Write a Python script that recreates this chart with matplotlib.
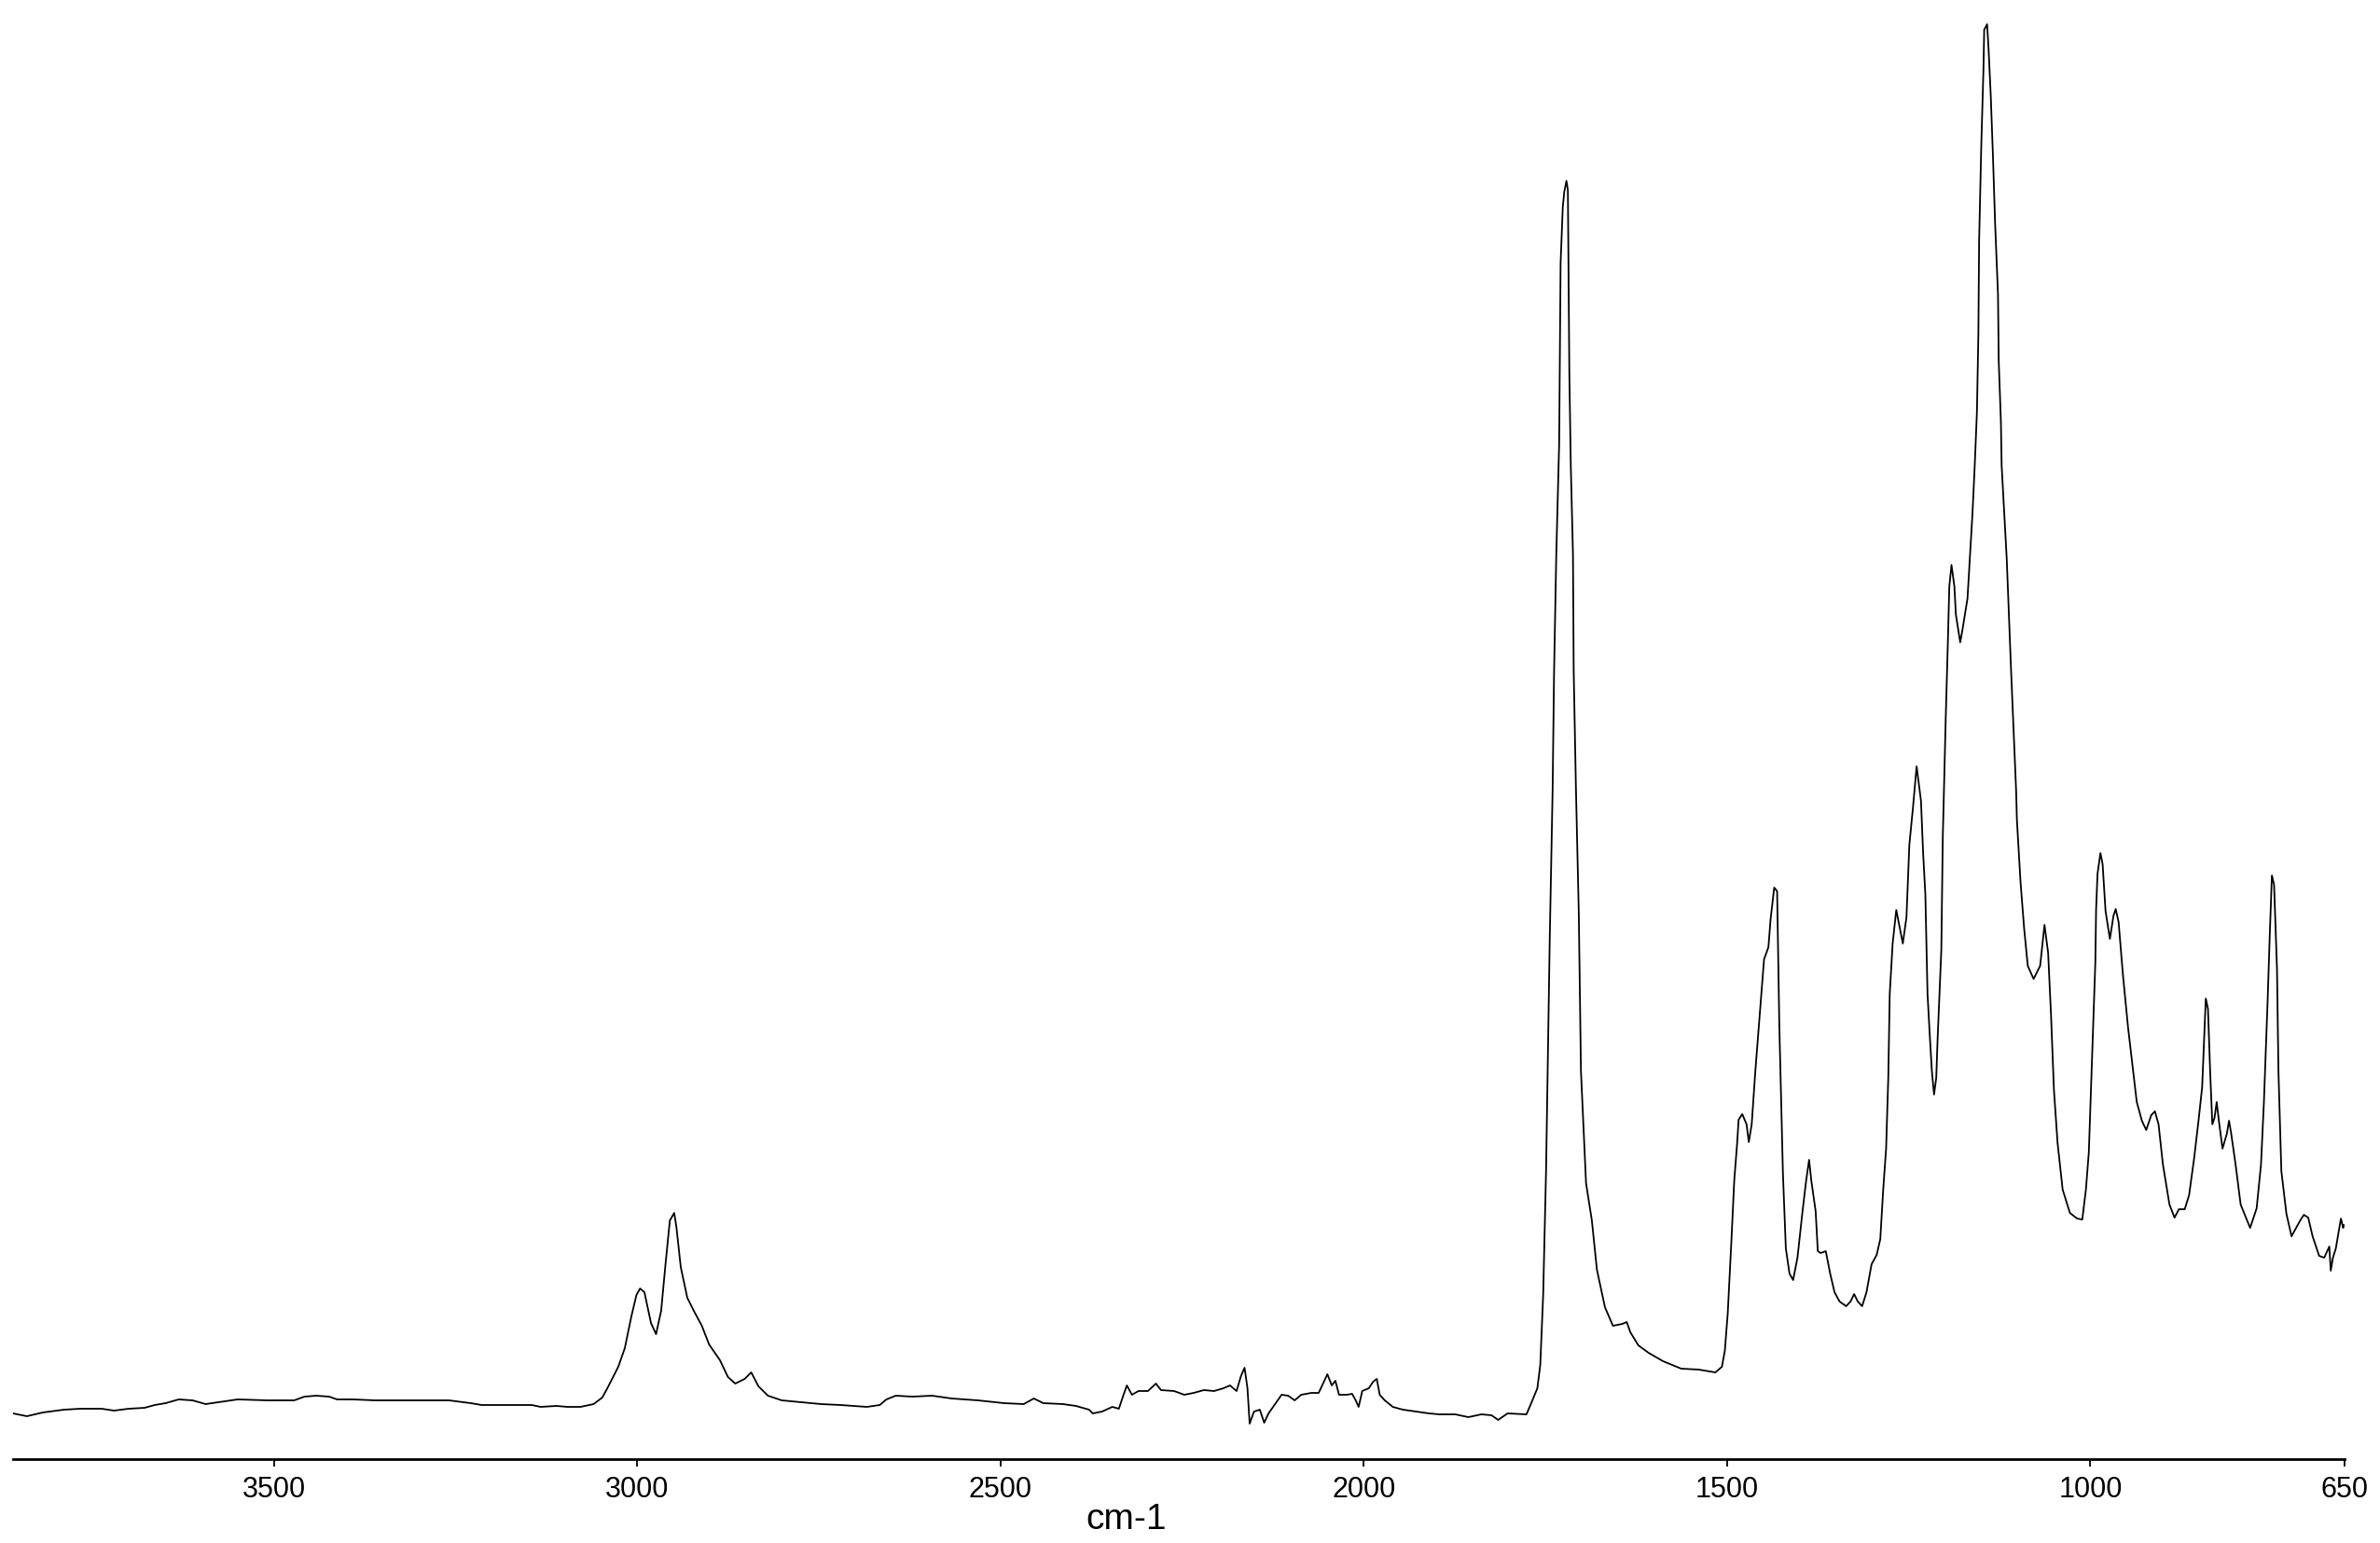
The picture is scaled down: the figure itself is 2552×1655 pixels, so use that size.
import matplotlib
matplotlib.use("Agg")
import matplotlib.pyplot as plt
import numpy as np

wavenumber = [
    3859, 3840, 3818, 3789, 3767, 3737, 3720, 3700, 3678, 3664, 3649, 3631, 3612, 3594, 3576, 3550,
    3509, 3472, 3458, 3442, 3424, 3413, 3391, 3361, 3324, 3288, 3259, 3229, 3214, 3178, 3145, 3133,
    3111, 3096, 3078, 3060, 3048, 3041, 3026, 3017, 3008, 3001, 2996, 2990, 2981, 2974, 2967, 2961,
    2955, 2949, 2946, 2940, 2931, 2922, 2911, 2901, 2886, 2875, 2865, 2852, 2843, 2833, 2820, 2801,
    2774, 2747, 2720, 2684, 2666, 2657, 2644, 2621, 2594, 2567, 2531, 2495, 2468, 2454, 2441, 2414,
    2396, 2378, 2373, 2360, 2346, 2337, 2331, 2326, 2319, 2310, 2297, 2286, 2279, 2261, 2247, 2234,
    2220, 2206, 2193, 2184, 2175, 2169, 2164, 2160, 2157, 2151, 2143, 2137, 2131, 2122, 2113, 2104,
    2095, 2086, 2072, 2062, 2056, 2050, 2044, 2039, 2034, 2023, 2016, 2011, 2007, 2002, 1993, 1987,
    1982, 1978, 1971, 1960, 1946, 1928, 1910, 1896, 1874, 1856, 1838, 1824, 1815, 1802, 1776, 1770,
    1761, 1757, 1753, 1749, 1744, 1740, 1738, 1735, 1731, 1730, 1729, 1726, 1724, 1721, 1719, 1717,
    1715, 1712, 1711, 1708, 1704, 1701, 1694, 1686, 1679, 1668, 1657, 1644, 1638, 1633, 1622, 1608,
    1588, 1563, 1539, 1516, 1507, 1503, 1499, 1494, 1490, 1486, 1484, 1479, 1473, 1470, 1466, 1461,
    1455, 1449, 1443, 1440, 1435, 1431, 1428, 1423, 1419, 1414, 1409, 1403, 1396, 1391, 1387, 1384,
    1378, 1375, 1371, 1364, 1358, 1352, 1345, 1336, 1330, 1325, 1320, 1314, 1308, 1301, 1294, 1289,
    1285, 1281, 1278, 1276, 1272, 1267, 1258, 1253, 1249, 1244, 1239, 1233, 1230, 1227, 1224, 1221,
    1218, 1215, 1212, 1210, 1205, 1203, 1199, 1196, 1194, 1191, 1187, 1185, 1179, 1176, 1169, 1165,
    1162, 1159, 1156, 1154, 1153, 1150, 1147, 1146, 1142, 1140, 1137, 1134, 1131, 1127, 1126, 1123,
    1122, 1115, 1109, 1102, 1101, 1096, 1091, 1086, 1078, 1069, 1063, 1058, 1054, 1050, 1045, 1038,
    1028, 1018, 1011, 1006, 1002, 999, 996, 993, 992, 990, 986, 983, 979, 973, 968, 965,
    961, 955, 948, 942, 936, 929, 923, 916, 911, 906, 900, 891, 884, 878, 870, 864,
    857, 851, 846, 843, 841, 838, 835, 832, 829, 826, 823, 818, 812, 809, 806, 800,
    793, 780, 771, 765, 761, 756, 753, 750, 747, 743, 741, 737, 730, 723, 711, 706,
    700, 694, 685, 678, 671, 669, 666, 662, 655, 652, 651,
]

absorbance = [
    0.049, 0.046, 0.050, 0.053, 0.054, 0.054, 0.052, 0.054, 0.055, 0.058, 0.060, 0.064, 0.063, 0.059, 0.061, 0.064,
    0.063, 0.063, 0.067, 0.068, 0.067, 0.064, 0.064, 0.063, 0.063, 0.063, 0.063, 0.060, 0.058, 0.058, 0.058, 0.056,
    0.057, 0.056, 0.056, 0.059, 0.066, 0.076, 0.099, 0.119, 0.153, 0.176, 0.183, 0.179, 0.146, 0.134, 0.159, 0.209,
    0.256, 0.264, 0.249, 0.206, 0.173, 0.159, 0.143, 0.123, 0.106, 0.088, 0.081, 0.086, 0.093, 0.078, 0.068, 0.063,
    0.061, 0.059, 0.058, 0.056, 0.058, 0.064, 0.068, 0.067, 0.068, 0.065, 0.063, 0.060, 0.059, 0.065, 0.060, 0.059,
    0.057, 0.053, 0.049, 0.051, 0.056, 0.054, 0.068, 0.079, 0.069, 0.073, 0.073, 0.081, 0.074, 0.073, 0.069, 0.071,
    0.074, 0.073, 0.076, 0.079, 0.073, 0.089, 0.098, 0.076, 0.038, 0.051, 0.053, 0.039, 0.049, 0.059, 0.069, 0.068,
    0.063, 0.069, 0.071, 0.071, 0.081, 0.091, 0.079, 0.084, 0.069, 0.069, 0.070, 0.063, 0.056, 0.073, 0.076, 0.083,
    0.086, 0.069, 0.063, 0.056, 0.053, 0.051, 0.049, 0.048, 0.048, 0.045, 0.048, 0.047, 0.042, 0.049, 0.048, 0.059,
    0.076, 0.101, 0.176, 0.310, 0.556, 0.718, 0.844, 0.969, 1.089, 1.191, 1.283, 1.343, 1.359, 1.371, 1.361, 1.166,
    1.066, 0.971, 0.846, 0.723, 0.586, 0.416, 0.296, 0.256, 0.203, 0.163, 0.143, 0.145, 0.147, 0.136, 0.122, 0.114,
    0.105, 0.097, 0.096, 0.093, 0.099, 0.116, 0.156, 0.233, 0.299, 0.339, 0.364, 0.370, 0.359, 0.340, 0.359, 0.416,
    0.476, 0.536, 0.549, 0.579, 0.613, 0.609, 0.466, 0.306, 0.226, 0.199, 0.192, 0.216, 0.266, 0.299, 0.321, 0.299,
    0.266, 0.223, 0.221, 0.223, 0.199, 0.179, 0.169, 0.164, 0.169, 0.177, 0.169, 0.164, 0.179, 0.209, 0.219, 0.236,
    0.289, 0.333, 0.409, 0.499, 0.553, 0.589, 0.553, 0.581, 0.659, 0.699, 0.743, 0.706, 0.649, 0.606, 0.499, 0.456,
    0.416, 0.391, 0.409, 0.453, 0.546, 0.666, 0.793, 0.876, 0.936, 0.959, 0.936, 0.906, 0.876, 0.889, 0.923, 0.976,
    1.016, 1.066, 1.123, 1.206, 1.306, 1.409, 1.491, 1.533, 1.539, 1.513, 1.463, 1.399, 1.326, 1.249, 1.178, 1.113,
    1.066, 0.966, 0.846, 0.716, 0.686, 0.619, 0.569, 0.529, 0.515, 0.529, 0.573, 0.543, 0.476, 0.396, 0.339, 0.289,
    0.264, 0.258, 0.257, 0.289, 0.329, 0.396, 0.463, 0.533, 0.589, 0.628, 0.650, 0.638, 0.588, 0.558, 0.583, 0.590,
    0.576, 0.519, 0.463, 0.423, 0.383, 0.363, 0.353, 0.369, 0.373, 0.359, 0.316, 0.273, 0.259, 0.268, 0.268, 0.283,
    0.323, 0.363, 0.399, 0.456, 0.494, 0.483, 0.416, 0.359, 0.366, 0.383, 0.363, 0.333, 0.349, 0.363, 0.349, 0.316,
    0.273, 0.248, 0.269, 0.316, 0.383, 0.489, 0.561, 0.626, 0.616, 0.526, 0.416, 0.309, 0.263, 0.239, 0.256, 0.262,
    0.259, 0.239, 0.218, 0.216, 0.228, 0.202, 0.216, 0.226, 0.258, 0.248, 0.251,
]

tick_values = [3500, 3000, 2500, 2000, 1500, 1000, 650]
tick_labels = ["3500", "3000", "2500", "2000", "1500", "1000", "650"]
x_label = "cm-1"

narrow = ["Liberation Sans Narrow", "Liberation Sans", "DejaVu Sans"]

W, H = 2552, 1656
fig = plt.figure(figsize=(W / 100, H / 100), dpi=100)
fig.patch.set_facecolor("white")

left_px, right_px, bottom_px, top_px = 14, 2514, 1566, 20
ax = fig.add_axes([left_px / W, 1 - bottom_px / H,
                   (right_px - left_px) / W, (bottom_px - top_px) / H])

ax.plot(wavenumber, absorbance, color="black", linewidth=1.3, antialiased=True)

ax.set_xlim(3859, 650)
ax.set_ylim(0, 1.546)

for side in ["top", "right", "left"]:
    ax.spines[side].set_visible(False)
ax.spines["bottom"].set_linewidth(2.0)
ax.spines["bottom"].set_color("black")

ax.set_yticks([])
ax.set_xticks(tick_values)
ax.set_xticklabels(tick_labels, fontfamily=narrow, fontsize=22, color="black")
ax.tick_params(axis="x", direction="out", length=6, width=1.3, pad=6, colors="black")

fig.text(1208 / W, 1 - 1630 / H, x_label, ha="center", va="center",
         fontfamily=narrow, fontsize=28, color="black")

fig.savefig("out.png", dpi=100, facecolor="white")
